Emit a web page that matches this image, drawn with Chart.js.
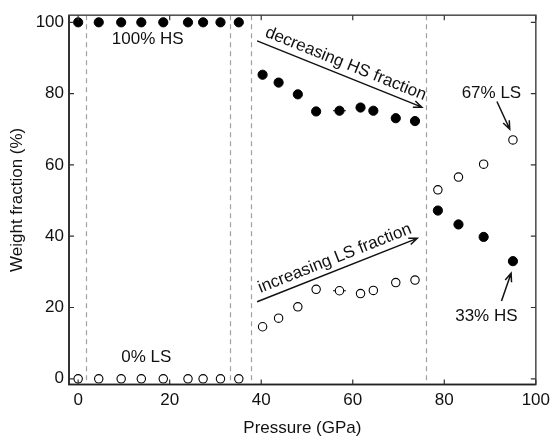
<!DOCTYPE html>
<html>
<head>
<meta charset="utf-8">
<script src="https://cdn.jsdelivr.net/npm/chart.js@4.4.1/dist/chart.umd.min.js"></script>
<style>
  html, body { margin: 0; padding: 0; background: #fff; }
  canvas { display: block; }
</style>
</head>
<body>
<canvas id="chart" width="556" height="441"></canvas>
<script>
// pressure (GPa) of each measurement
const pressure = [0, 4.5, 9.4, 13.8, 18.6, 24.0, 27.3, 31.1, 35.1,
                  40.3, 43.8, 48.0, 52.0, 57.1, 61.7, 64.5, 69.4, 73.6,
                  78.6, 83.1, 88.6, 95.0];
// high-spin fraction (%)
const hsFraction = [100, 100, 100, 100, 100, 100, 100, 100, 100,
                    85.3, 83.1, 79.8, 75.0, 75.2, 76.1, 75.2, 73.1, 72.3,
                    47.2, 43.3, 39.8, 33.0];
// low-spin fraction (%)
const lsFraction = [0, 0, 0, 0, 0, 0, 0, 0, 0,
                    14.6, 17.0, 20.2, 25.1, 24.7, 23.9, 24.8, 27.0, 27.7,
                    53.0, 56.6, 60.2, 67.0];
// pressure uncertainty (GPa), only shown where visible
const pressureErr = [0, 0, 0, 0, 0, 0, 0, 0, 0,
                     0, 0, 0, 0, 1.4, 0, 0, 0, 0,
                     0, 0, 0, 0];

const xTicks = [0, 20, 40, 60, 80, 100];
const yTicks = [0, 20, 40, 60, 80, 100];
const boundaries = [1.7, 33.1, 37.8, 76.1];

const labels = [
  { text: '100% HS', x: 15.2, y: 95.3 },
  { text: '0% LS', x: 14.9, y: 6.1 },
  { text: '67% LS', x: 90.3, y: 80.2 },
  { text: '33% HS', x: 89.2, y: 17.6 }
];
const arrows = [
  { from: [39.1, 94.8], to: [75.1, 76.2], text: 'decreasing HS fraction' },
  { from: [39.1, 21.6], to: [74.1, 39.4], text: 'increasing LS fraction' },
  { from: [91.5, 77.8], to: [94.3, 70.0] },
  { from: [92.5, 21.8], to: [94.6, 29.6] }
];

const FONT = '17px "Liberation Sans", Arial, sans-serif';

const toPoints = vals => vals.map((v, i) => ({ x: pressure[i], y: v, ex: pressureErr[i] }));

const decorPlugin = {
  id: 'decor',
  beforeDatasetsDraw(chart) {
    const { ctx, chartArea: a, scales: { x, y } } = chart;
    ctx.save();
    // phase boundaries
    ctx.strokeStyle = '#a0a0a0';
    ctx.lineWidth = 1.2;
    ctx.setLineDash([5, 4]);
    boundaries.forEach(b => {
      const px = Math.round(x.getPixelForValue(b)) + 0.5;
      ctx.beginPath();
      ctx.moveTo(px, a.top);
      ctx.lineTo(px, a.bottom);
      ctx.stroke();
    });
    ctx.setLineDash([]);
    // error bars
    ctx.strokeStyle = '#000';
    ctx.lineWidth = 1;
    chart.data.datasets.forEach(ds => {
      ds.data.forEach(p => {
        if (!p.ex) return;
        const py = y.getPixelForValue(p.y);
        ctx.beginPath();
        ctx.moveTo(x.getPixelForValue(p.x - p.ex), py);
        ctx.lineTo(x.getPixelForValue(p.x + p.ex), py);
        ctx.stroke();
      });
    });
    ctx.restore();
  },
  afterDraw(chart) {
    const { ctx, chartArea: a, scales: { x, y } } = chart;
    ctx.save();
    // frame
    ctx.lineWidth = 1.6;
    ctx.strokeStyle = '#555';
    ctx.strokeRect(a.left, a.top, a.right - a.left, a.bottom - a.top);
    ctx.strokeStyle = '#222';
    ctx.beginPath();
    ctx.moveTo(a.left, a.top);
    ctx.lineTo(a.left, a.bottom);
    ctx.lineTo(a.right, a.bottom);
    ctx.stroke();
    // inward ticks
    ctx.lineWidth = 1.2;
    ctx.strokeStyle = '#333';
    const tl = 5;
    xTicks.forEach(t => {
      const px = x.getPixelForValue(t);
      ctx.beginPath();
      ctx.moveTo(px, a.bottom); ctx.lineTo(px, a.bottom - tl);
      ctx.moveTo(px, a.top); ctx.lineTo(px, a.top + tl);
      ctx.stroke();
    });
    yTicks.forEach(t => {
      const py = y.getPixelForValue(t);
      ctx.beginPath();
      ctx.moveTo(a.left, py); ctx.lineTo(a.left + tl, py);
      ctx.moveTo(a.right, py); ctx.lineTo(a.right - tl, py);
      ctx.stroke();
    });
    // text labels
    ctx.fillStyle = '#111';
    ctx.font = FONT;
    ctx.textAlign = 'center';
    ctx.textBaseline = 'middle';
    labels.forEach(l => {
      ctx.fillText(l.text, x.getPixelForValue(l.x), y.getPixelForValue(l.y));
    });
    // arrows
    ctx.strokeStyle = '#111';
    ctx.lineWidth = 1.5;
    arrows.forEach(ar => {
      const x0 = x.getPixelForValue(ar.from[0]), y0 = y.getPixelForValue(ar.from[1]);
      const x1 = x.getPixelForValue(ar.to[0]), y1 = y.getPixelForValue(ar.to[1]);
      const ang = Math.atan2(y1 - y0, x1 - x0);
      ctx.beginPath();
      ctx.moveTo(x0, y0);
      ctx.lineTo(x1, y1);
      const h = 9, w = 0.38;
      ctx.moveTo(x1 - h * Math.cos(ang - w), y1 - h * Math.sin(ang - w));
      ctx.lineTo(x1, y1);
      ctx.lineTo(x1 - h * Math.cos(ang + w), y1 - h * Math.sin(ang + w));
      ctx.stroke();
      if (ar.text) {
        ctx.save();
        ctx.translate((x0 + x1) / 2, (y0 + y1) / 2);
        ctx.rotate(ang);
        ctx.textBaseline = 'alphabetic';
        ctx.fillText(ar.text, 2, -7);
        ctx.restore();
      }
    });
    ctx.restore();
  }
};

new Chart(document.getElementById('chart'), {
  type: 'scatter',
  data: {
    datasets: [
      {
        label: 'HS',
        data: toPoints(hsFraction),
        pointRadius: 4.6,
        pointBackgroundColor: '#000',
        pointBorderColor: '#000',
        pointBorderWidth: 1,
        clip: false
      },
      {
        label: 'LS',
        data: toPoints(lsFraction),
        pointRadius: 4.2,
        pointBackgroundColor: '#fff',
        pointBorderColor: '#000',
        pointBorderWidth: 1.1,
        clip: false
      }
    ]
  },
  options: {
    responsive: false,
    animation: false,
    layout: { padding: { left: 0, right: 14.5, top: 8.5, bottom: 0 } },
    plugins: { legend: { display: false }, tooltip: { enabled: false } },
    scales: {
      x: {
        type: 'linear',
        min: -2,
        max: 100,
        afterBuildTicks: s => { s.ticks = xTicks.map(v => ({ value: v })); },
        afterFit: s => { s.height = 56.5; },
        grid: { display: false, drawTicks: false },
        border: { display: false },
        ticks: { color: '#111', font: { family: '"Liberation Sans", Arial', size: 17 }, padding: 6, maxRotation: 0 },
        title: { display: true, text: 'Pressure (GPa)', color: '#111',
                 font: { family: '"Liberation Sans", Arial', size: 17 }, padding: { top: 0, bottom: 2 } }
      },
      y: {
        min: -1.6,
        max: 102,
        afterBuildTicks: s => { s.ticks = yTicks.map(v => ({ value: v })); },
        afterFit: s => { s.width = 69; },
        grid: { display: false, drawTicks: false },
        border: { display: false },
        ticks: { color: '#111', font: { family: '"Liberation Sans", Arial', size: 17 }, padding: 5 },
        title: { display: true, text: 'Weight fraction (%)', color: '#111',
                 font: { family: '"Liberation Sans", Arial', size: 17 }, padding: { top: 7, bottom: 0 } }
      }
    }
  },
  plugins: [decorPlugin]
});
</script>
</body>
</html>
